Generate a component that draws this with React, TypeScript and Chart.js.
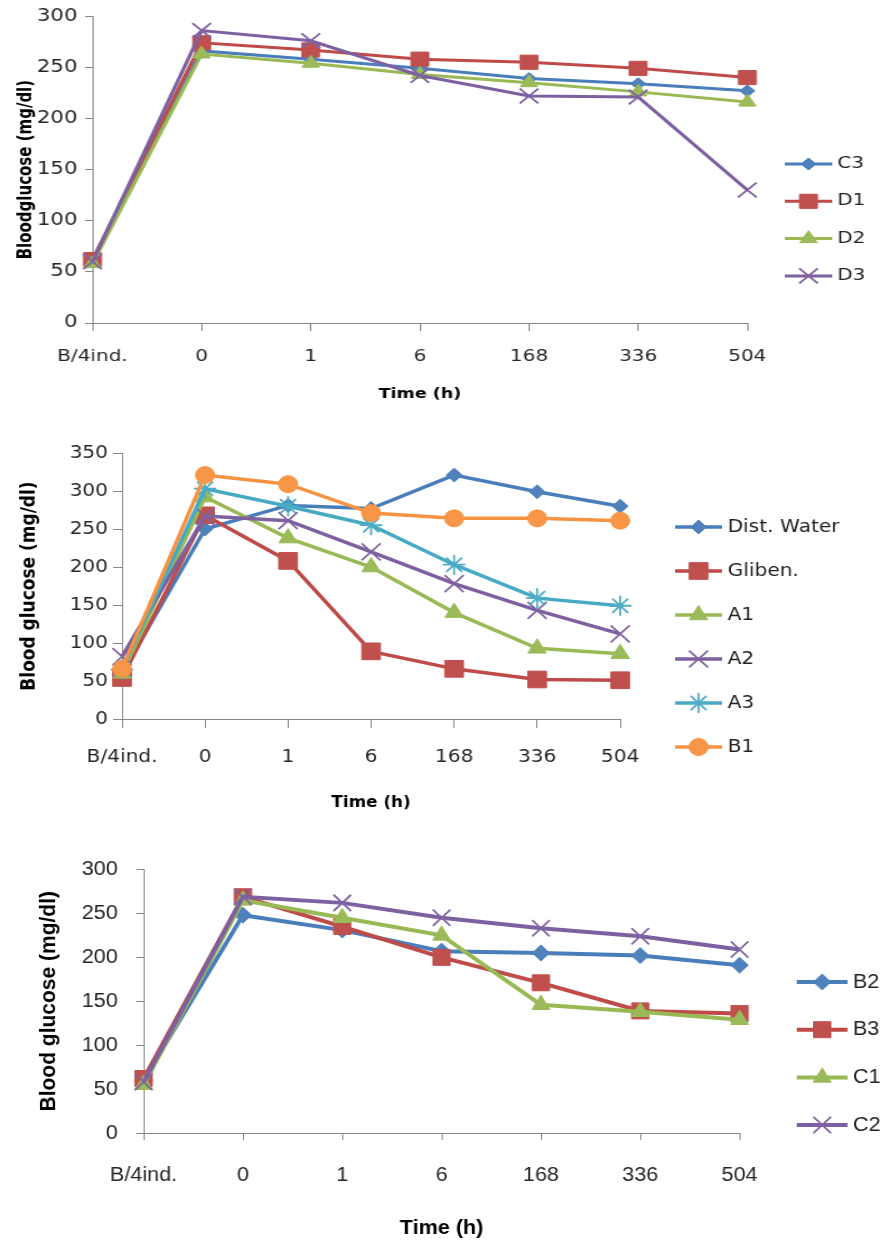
import { useEffect, useRef } from 'react';
import { Chart, registerables } from 'chart.js';
import { drawPoint } from 'chart.js/helpers';

Chart.register(...registerables);

// x categories, shared by the three panels
const timeLabels = ['B/4ind.', '0', '1', '6', '168', '336', '504'];

// top panel
const c3 = [60, 266, 258, 249, 239, 234, 227];
const d1 = [62, 274, 267, 258, 255, 249, 240];
const d2 = [58, 263, 254, 243, 235, 226, 216];
const d3 = [60, 286, 276, 242, 222, 221, 130];

// middle panel
const distWater = [60, 250, 281, 277, 321, 299, 280];
const gliben = [54, 268, 208, 89, 66, 52, 51];
const a1 = [60, 292, 238, 200, 140, 93, 86];
const a2 = [82, 267, 261, 220, 178, 143, 112];
const a3 = [65, 303, 280, 255, 203, 159, 149];
const b1 = [66, 321, 309, 271, 264, 264, 261];

// bottom panel
const b2 = [60, 248, 231, 207, 205, 202, 191];
const b3 = [62, 269, 235, 200, 171, 139, 136];
const c1 = [55, 265, 245, 225, 146, 138, 129];
const c2 = [58, 269, 262, 245, 233, 224, 209];

// excel 2007 default palette (line colour, marker colour)
const palette = {
  blue: ['#4A7EBB', '#4F81BD'],
  red: ['#BE4B48', '#C0504D'],
  green: ['#98B954', '#9BBB59'],
  purple: ['#7D60A0', '#8064A2'],
  aqua: ['#46AAC5', '#4BACC6'],
  orange: ['#F69240', '#F79646'],
};

type Series = { label: string; data: number[]; color: keyof typeof palette; marker: string };

type PanelProps = {
  top: number;
  height: number;
  innerWidth: number;
  plot: { left: number; right: number; top: number; bottom: number };
  yMax: number;
  family: string;
  series: Series[];
  radii: Record<string, number>;
  lineWidth: number;
  yTitle: string;
  yTitleSize: number;
  yTitlePad: number;
  xTitleSize: number;
  xTitlePad: number;
  yTickSize: number;
  yTickLen: number;
  yTickPad: number;
  xTickSize: number;
  xTickLen: number;
  xTickPad: number;
  legend: { x0: number; x1: number; textX: number; y0: number; dy: number; size: number };
};

const sideLegend = {
  id: 'sideLegend',
  afterDraw(chart: any, _args: any, opts: any) {
    const { ctx } = chart;
    ctx.save();
    chart.data.datasets.forEach((ds: any, i: number) => {
      const y = opts.y0 + i * opts.dy;
      ctx.strokeStyle = ds.borderColor;
      ctx.lineWidth = ds.borderWidth;
      ctx.beginPath();
      ctx.moveTo(opts.x0, y);
      ctx.lineTo(opts.x1, y);
      ctx.stroke();
      ctx.fillStyle = ds.pointBackgroundColor;
      ctx.strokeStyle = ds.pointBorderColor;
      ctx.lineWidth = ds.pointBorderWidth;
      drawPoint(
        ctx,
        { pointStyle: ds.pointStyle, radius: ds.pointRadius, rotation: 0, borderWidth: ds.pointBorderWidth },
        (opts.x0 + opts.x1) / 2,
        y
      );
      ctx.fillStyle = '#222';
      ctx.font = opts.font;
      ctx.textAlign = 'left';
      ctx.textBaseline = 'middle';
      ctx.fillText(ds.label, opts.textX, y);
    });
    ctx.restore();
  },
};

function Panel(p: PanelProps) {
  const ref = useRef<HTMLCanvasElement>(null);

  useEffect(() => {
    if (!ref.current) return;
    const n = p.series.length;
    const chart = new Chart(ref.current, {
      type: 'line',
      data: {
        labels: timeLabels,
        datasets: p.series.map((s, i) => {
          const [line, fill] = palette[s.color];
          const lineMarker = s.marker === 'crossRot' || s.marker === 'star';
          return {
            label: s.label,
            data: s.data,
            borderColor: line,
            borderWidth: p.lineWidth,
            pointStyle: s.marker,
            pointRadius: p.radii[s.marker],
            pointBackgroundColor: fill,
            pointBorderColor: fill,
            pointBorderWidth: lineMarker ? 1.8 : 1,
            tension: 0,
            clip: false,
            order: n - i,
          };
        }) as any,
      },
      options: {
        responsive: false,
        animation: false,
        events: [],
        layout: {
          padding: { top: p.plot.top, right: p.innerWidth - p.plot.right, bottom: 0, left: 0 },
        },
        plugins: {
          legend: { display: false },
          tooltip: { enabled: false },
          sideLegend: { ...p.legend, font: `${p.legend.size}px ${p.family}` },
        } as any,
        scales: {
          x: {
            type: 'category',
            offset: false,
            afterFit: (s: any) => {
              s.height = p.height - p.plot.bottom;
            },
            grid: { drawOnChartArea: false, drawTicks: true, tickLength: p.xTickLen, color: '#868686' },
            border: { color: '#868686', width: 1 },
            ticks: { color: '#262626', padding: p.xTickPad, font: { family: p.family, size: p.xTickSize }, maxRotation: 0, autoSkip: false },
            title: {
              display: true,
              text: 'Time (h)',
              color: '#000',
              font: { family: p.family, size: p.xTitleSize, weight: 'bold' },
              padding: { top: 0, bottom: p.xTitlePad },
            },
          },
          y: {
            min: 0,
            max: p.yMax,
            afterFit: (s: any) => {
              s.width = p.plot.left;
            },
            grid: { drawOnChartArea: false, drawTicks: true, tickLength: p.yTickLen, color: '#868686' },
            border: { color: '#868686', width: 1 },
            ticks: { stepSize: 50, color: '#262626', padding: p.yTickPad, font: { family: p.family, size: p.yTickSize } },
            title: {
              display: true,
              text: p.yTitle,
              color: '#000',
              font: { family: p.family, size: p.yTitleSize, weight: 'bold' },
              padding: { top: p.yTitlePad, bottom: 0 },
            },
          },
        },
      },
      plugins: [sideLegend],
    });
    return () => chart.destroy();
  }, []);

  return (
    <canvas
      ref={ref}
      width={p.innerWidth}
      height={p.height}
      style={{ position: 'absolute', left: 0, top: p.top, width: 881, height: p.height }}
    />
  );
}

const dejavu = '"DejaVu Sans", sans-serif';
const liberation = '"Liberation Sans", Arial, sans-serif';

const panels: PanelProps[] = [
  {
    top: 0,
    height: 410,
    innerWidth: 705,
    plot: { left: 74, right: 598, top: 15, bottom: 323 },
    yMax: 300,
    family: dejavu,
    series: [
      { label: 'C3', data: c3, color: 'blue', marker: 'rectRot' },
      { label: 'D1', data: d1, color: 'red', marker: 'rect' },
      { label: 'D2', data: d2, color: 'green', marker: 'triangle' },
      { label: 'D3', data: d3, color: 'purple', marker: 'crossRot' },
    ],
    radii: { rectRot: 6, rect: 10, triangle: 8, crossRot: 10.5 },
    lineWidth: 3,
    yTitle: 'Bloodglucose (mg/dl)',
    yTitleSize: 15,
    yTitlePad: 12,
    xTitleSize: 14,
    xTitlePad: 7,
    yTickSize: 17,
    yTickLen: 6,
    yTickPad: 6,
    xTickSize: 16,
    xTickLen: 8,
    xTickPad: 16,
    legend: { x0: 628, x1: 666, textX: 670, y0: 164, dy: 37.3, size: 16 },
  },
  {
    top: 430,
    height: 400,
    innerWidth: 787,
    plot: { left: 109, right: 554, top: 23, bottom: 289 },
    yMax: 350,
    family: dejavu,
    series: [
      { label: 'Dist. Water', data: distWater, color: 'blue', marker: 'rectRot' },
      { label: 'Gliben.', data: gliben, color: 'red', marker: 'rect' },
      { label: 'A1', data: a1, color: 'green', marker: 'triangle' },
      { label: 'A2', data: a2, color: 'purple', marker: 'crossRot' },
      { label: 'A3', data: a3, color: 'aqua', marker: 'star' },
      { label: 'B1', data: b1, color: 'orange', marker: 'circle' },
    ],
    radii: { rectRot: 7, rect: 11.8, triangle: 9.5, crossRot: 12, star: 10, circle: 8.5 },
    lineWidth: 3.5,
    yTitle: 'Blood glucose (mg/dl)',
    yTitleSize: 17,
    yTitlePad: 16,
    xTitleSize: 15,
    xTitlePad: 18,
    yTickSize: 18,
    yTickLen: 8,
    yTickPad: 4.5,
    xTickSize: 18,
    xTickLen: 9,
    xTickPad: 19,
    legend: { x0: 603, x1: 645, textX: 650, y0: 97, dy: 44, size: 18 },
  },
  {
    top: 840,
    height: 402,
    innerWidth: 816,
    plot: { left: 133, right: 685, top: 19, bottom: 293 },
    yMax: 300,
    family: liberation,
    series: [
      { label: 'B2', data: b2, color: 'blue', marker: 'rectRot' },
      { label: 'B3', data: b3, color: 'red', marker: 'rect' },
      { label: 'C1', data: c1, color: 'green', marker: 'triangle' },
      { label: 'C2', data: c2, color: 'purple', marker: 'crossRot' },
    ],
    radii: { rectRot: 8, rect: 11.3, triangle: 9.5, crossRot: 11.5 },
    lineWidth: 4,
    yTitle: 'Blood glucose (mg/dl)',
    yTitleSize: 21,
    yTitlePad: 33,
    xTitleSize: 20,
    xTitlePad: 2,
    yTickSize: 20,
    yTickLen: 6.5,
    yTickPad: 17.5,
    xTickSize: 20,
    xTickLen: 7,
    xTickPad: 23,
    legend: { x0: 738, x1: 785, textX: 790, y0: 142, dy: 47.7, size: 20 },
  },
];

export default function App() {
  return (
    <div style={{ position: 'absolute', left: 0, top: 0, width: 881, height: 1242, background: '#fff', overflow: 'hidden' }}>
      {panels.map((p) => (
        <Panel key={p.top} {...p} />
      ))}
    </div>
  );
}
